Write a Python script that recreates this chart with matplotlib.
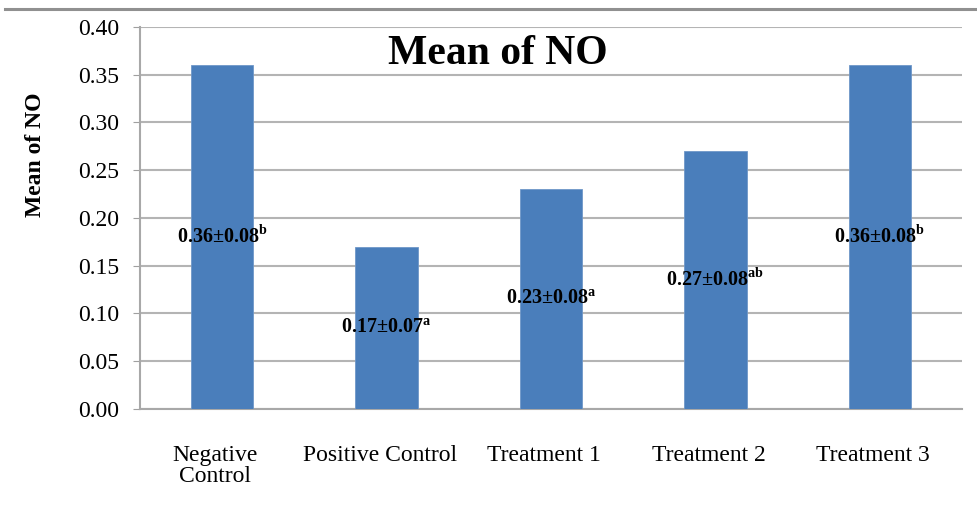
import matplotlib
matplotlib.use('Agg')
import matplotlib.pyplot as plt
import matplotlib.transforms as mtransforms
import numpy as np

plt.rcParams['font.family'] = ['Liberation Serif', 'DejaVu Serif']
plt.rcParams['mathtext.fontset'] = 'custom'
plt.rcParams['mathtext.rm'] = 'Liberation Serif'
plt.rcParams['mathtext.bf'] = 'Liberation Serif:bold'

# Дані
groups = ['Negative\nControl', 'Positive Control', 'Treatment 1', 'Treatment 2', 'Treatment 3']
means = [0.36, 0.17, 0.23, 0.27, 0.36]
sds = [0.08, 0.07, 0.08, 0.08, 0.08]
letters = ['b', 'a', 'a', 'ab', 'b']

fig = plt.figure(figsize=(9.77, 5.19), dpi=100)
ax = fig.add_axes([0.1433, 0.212, 0.8414, 0.736])

x = np.arange(len(groups))
ax.bar(x, means, width=0.38, color='#4a7ebb', edgecolor='#6f97c8', linewidth=0.6, zorder=3)

# Підписи середнє±SD з буквами значущості посередині стовпчика
for xi, m, s, l in zip(x, means, sds, letters):
    ax.text(xi, m / 2, f'{m:.2f}±{s:.2f}' + r'$^{\mathbf{' + l + '}}$',
            ha='center', va='center', fontsize=14.5, fontweight='bold', zorder=4)

ax.set_xlim(-0.5, len(groups) - 0.5)
ax.set_ylim(0, 0.40)
yt = np.arange(0, 0.401, 0.05)
ax.set_yticks(yt)
ax.set_yticklabels([f'{v:.2f}' for v in yt])
ax.set_xticks(x)
ax.set_xticklabels(groups, fontsize=17, linespacing=1.0)
ax.tick_params(axis='y', labelsize=17, length=5, color='#a0a0a0', pad=10)
ax.tick_params(axis='x', length=0, pad=26)

# трохи зсуваємо підписи категорій ліворуч
shift = mtransforms.ScaledTranslation(-0.07, 0, fig.dpi_scale_trans)
for lbl in ax.get_xticklabels():
    lbl.set_transform(lbl.get_transform() + shift)

ax.grid(axis='y', color='#b4b4b4', linewidth=1.5, zorder=0)

for side in ['top', 'right']:
    ax.spines[side].set_visible(False)
for side in ['left', 'bottom']:
    ax.spines[side].set_color('#a8a8a8')
    ax.spines[side].set_linewidth(1.5)

ax.set_ylabel('Mean of NO', fontsize=17, fontweight='bold')
ax.yaxis.set_label_coords(-0.114, 0.665)
ax.text(0.435, 0.93, 'Mean of NO', transform=ax.transAxes, ha='center', va='center',
        fontsize=30, fontweight='bold')

# Лінія рамки зверху
fig.add_artist(plt.Line2D([0.005, 1.0], [0.983, 0.983], color='#909090', linewidth=2.2))

fig.savefig('out.png', dpi=100)
